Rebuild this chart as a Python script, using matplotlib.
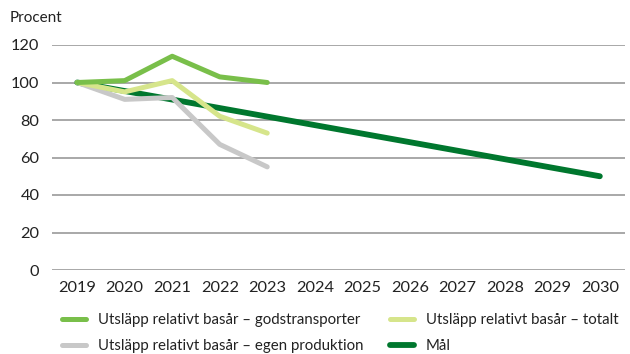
import matplotlib.pyplot as plt

plt.rcParams['font.family'] = ['Lato', 'DejaVu Sans']

years = list(range(2019, 2031))
hist_years = [2019, 2020, 2021, 2022, 2023]

godstransporter = [100, 101, 114, 103, 100]
totalt = [100, 95, 101, 82, 73]
egen_produktion = [100, 91, 92, 67, 55]

mal_years = [2019, 2030]
mal_values = [100, 50]

labels = ['Utsläpp relativt basår – godstransporter',
          'Utsläpp relativt basår – egen produktion',
          'Utsläpp relativt basår – totalt',
          'Mål']

fig = plt.figure(figsize=(6.3, 3.54), dpi=100)
ax = fig.add_axes([52 / 630, 1 - 270 / 354, 573 / 630, 225 / 354])

for y in range(0, 121, 20):
    ax.axhline(y, color='#9a9a9a', lw=1.2, zorder=1)

l_mal, = ax.plot(mal_years, mal_values, color='#00772e', lw=4.2,
                 solid_capstyle='round', zorder=2, clip_on=False)
l_eg, = ax.plot(hist_years, egen_produktion, color='#c8c8c8', lw=3.6,
                solid_capstyle='round', solid_joinstyle='round', zorder=3, clip_on=False)
l_tot, = ax.plot(hist_years, totalt, color='#d6e58b', lw=3.6,
                 solid_capstyle='round', solid_joinstyle='round', zorder=4, clip_on=False)
l_gods, = ax.plot(hist_years, godstransporter, color='#79bf4a', lw=3.6,
                  solid_capstyle='round', solid_joinstyle='round', zorder=5, clip_on=False)

ax.set_xlim(2018.47, 2030.53)
ax.set_ylim(0, 120)
ax.set_xticks(years)
ax.set_xticklabels([str(y) for y in years])
ax.set_yticks(range(0, 121, 20))
for s in ax.spines.values():
    s.set_visible(False)
ax.tick_params(length=0, labelsize=11.8, colors='#222222')
ax.tick_params(axis='y', pad=9)
ax.tick_params(axis='x', pad=8)

fig.text(10 / 630, 1 - 18 / 354, 'Procent', fontsize=11, va='center', ha='left',
         color='#222222')

fig.legend([l_gods, l_eg, l_tot, l_mal], labels, ncol=2, frameon=False,
           loc='lower left', bbox_to_anchor=(48 / 630, -0.035), fontsize=10.8,
           handlelength=1.6, handletextpad=0.8, columnspacing=1.8,
           labelspacing=0.8, labelcolor='#222222')

fig.savefig('out.png', dpi=100)
